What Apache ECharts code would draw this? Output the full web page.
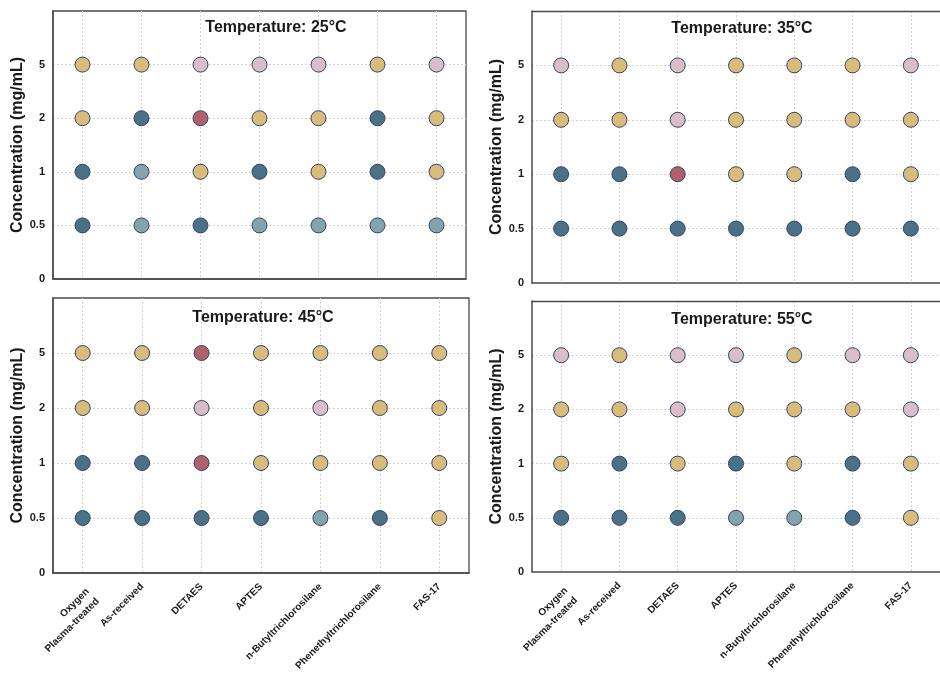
<!DOCTYPE html>
<html>
<head>
<meta charset="utf-8">
<script src="https://cdn.jsdelivr.net/npm/echarts@6/dist/echarts.min.js"></script>
<style>
html,body{margin:0;padding:0;background:#fff;}
#chart{width:940px;height:675px;}
</style>
</head>
<body>
<div id="chart"></div>
<script>
// ---- data ----
const categories = ['Oxygen\nPlasma-treated', 'As-received', 'DETAES', 'APTES', 'n-Butyltrichlorosilane', 'Phenethyltrichlorosilane', 'FAS-17'];
const yTickLabels = ['0', '0.5', '1', '2', '5', ''];
const rowConcentrations = ['5', '2', '1', '0.5']; // rows, top to bottom
const temperatures = ['25', '35', '45', '55'];
// state codes: D = dark blue, L = light blue, T = tan, P = pink, R = red
const state25 = [
  ['T','T','P','P','P','T','P'],
  ['T','D','R','T','T','D','T'],
  ['D','L','T','D','T','D','T'],
  ['D','L','D','L','L','L','L']
];
const state35 = [
  ['P','T','P','T','T','T','P'],
  ['T','T','P','T','T','T','T'],
  ['D','D','R','T','T','D','T'],
  ['D','D','D','D','D','D','D']
];
const state45 = [
  ['T','T','R','T','T','T','T'],
  ['T','T','P','T','P','T','T'],
  ['D','D','R','T','T','T','T'],
  ['D','D','D','D','L','D','T']
];
const state55 = [
  ['P','T','P','P','T','P','P'],
  ['T','T','P','T','T','T','P'],
  ['T','D','T','D','T','D','T'],
  ['D','D','D','L','L','D','T']
];
const states = [state25, state35, state45, state55];

// ---- styles ----
const stateColors = { D: '#4b7187', L: '#84a4ab', T: '#d9bb7a', P: '#d9bdc7', R: '#b1616b' };
const panels = [
  { left: 53,  top: 11,  width: 413, height: 268, titleX: 271, titleY: 15,  labels: false, rightBorder: true },
  { left: 532, top: 11,  width: 418, height: 272, titleX: 737, titleY: 16,  labels: false, rightBorder: false },
  { left: 53,  top: 298, width: 416, height: 275, titleX: 258, titleY: 305, labels: true,  rightBorder: true },
  { left: 532, top: 301, width: 418, height: 271, titleX: 737, titleY: 307, labels: true,  rightBorder: false }
];
const axisColor = '#4a4a4a';
const textColor = '#1a1a1a';
const gridLineColor = '#d4d4d4';
const fontFamily = 'Liberation Sans, Arial, sans-serif';

const option = {
  animation: false,
  backgroundColor: '#fff',
  title: [], grid: [], xAxis: [], yAxis: [], series: []
};

const xLabelData = categories.map((c) => c.indexOf('\n') >= 0
  ? { value: c, textStyle: { verticalAlign: 'top' } }
  : c);

panels.forEach((p, k) => {
  option.title.push({
    text: 'Temperature: ' + temperatures[k] + '°C',
    left: p.titleX, top: p.titleY, textAlign: 'center',
    textStyle: { fontSize: 16, fontWeight: 'bold', color: textColor, fontFamily }
  });
  option.grid.push({
    left: p.left, top: p.top, width: p.width, height: p.height,
    show: p.rightBorder, borderColor: axisColor, borderWidth: 1.3, backgroundColor: 'transparent'
  });
  const xBase = option.xAxis.length;
  // main x axis
  option.xAxis.push({
    type: 'category', gridIndex: k, data: xLabelData, boundaryGap: true,
    axisLine: { lineStyle: { color: axisColor, width: 1.5 } },
    axisTick: { alignWithLabel: true, length: 5, lineStyle: { color: axisColor, width: 1.3 } },
    axisLabel: { show: p.labels, rotate: 45, interval: 0, margin: 12, fontSize: 10, fontWeight: 'bold', color: textColor, fontFamily, lineHeight: 14 },
    splitLine: { show: true, alignWithLabel: true, lineStyle: { color: gridLineColor, type: [2, 2], width: 1 } }
  });
  // minor-tick x axis (ticks at category boundaries)
  option.xAxis.push({
    type: 'category', gridIndex: k, data: categories, boundaryGap: true, position: 'bottom',
    axisLine: { show: false },
    axisTick: { length: 3, lineStyle: { color: axisColor, width: 1.2 } },
    axisLabel: { show: false }, splitLine: { show: false }
  });
  if (!p.rightBorder) {
    // top frame line for panels cut at the right edge
    option.xAxis.push({
      type: 'category', gridIndex: k, data: categories, position: 'top',
      axisLine: { show: true, lineStyle: { color: axisColor, width: 1.3 } },
      axisTick: { show: false }, axisLabel: { show: false }, splitLine: { show: false }
    });
  }
  option.yAxis.push({
    type: 'category', gridIndex: k, data: yTickLabels, boundaryGap: false,
    name: 'Concentration (mg/mL)', nameLocation: 'middle', nameGap: 26,
    nameTextStyle: { fontSize: 16, fontWeight: 'bold', color: textColor, fontFamily },
    axisLine: { lineStyle: { color: axisColor, width: 1.5 } },
    axisTick: { length: 5, interval: (i) => i < 5, lineStyle: { color: axisColor, width: 1.3 } },
    axisLabel: { margin: 8, fontSize: 11, fontWeight: 'bold', color: textColor, fontFamily },
    splitLine: { show: true, interval: (i) => i > 0 && i < 5, lineStyle: { color: gridLineColor, type: [2, 2], width: 1 } }
  });
  const data = [];
  states[k].forEach((row, r) => {
    row.forEach((s, c) => {
      data.push({ value: [c, rowConcentrations[r]], itemStyle: { color: stateColors[s] } });
    });
  });
  option.series.push({
    type: 'scatter', xAxisIndex: xBase, yAxisIndex: k,
    symbol: 'circle', symbolSize: 15,
    itemStyle: { borderColor: '#33436a', borderWidth: 1, opacity: 1 },
    data
  });
});

const chart = echarts.init(document.getElementById('chart'), null, { renderer: 'canvas' });
chart.setOption(option);
</script>
</body>
</html>
